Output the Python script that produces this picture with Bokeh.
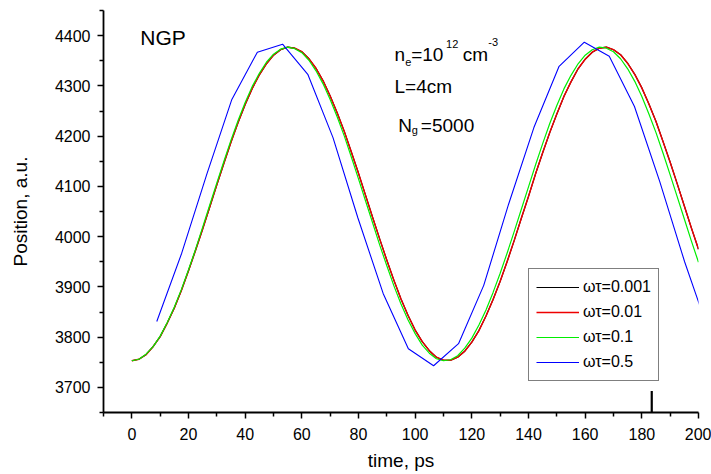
from bokeh.plotting import figure
from bokeh.models import FixedTicker, Range1d, Legend, LegendItem
from bokeh.core.properties import value
from bokeh.embed import file_html
from bokeh.resources import INLINE

# time axis of the smooth runs, ps
t_smooth = [0, 2.5, 5, 7.5, 10, 12.5, 15, 17.5, 20, 22.5, 25, 27.5, 30, 32.5,
            35, 37.5, 40, 42.5, 45, 47.5, 50, 52.5, 55, 57.5, 60, 62.5, 65,
            67.5, 70, 72.5, 75, 77.5, 80, 82.5, 85, 87.5, 90, 92.5, 95, 97.5,
            100, 102.5, 105, 107.5, 110, 112.5, 115, 117.5, 120, 122.5, 125,
            127.5, 130, 132.5, 135, 137.5, 140, 142.5, 145, 147.5, 150, 152.5,
            155, 157.5, 160, 162.5, 165, 167.5, 170, 172.5, 175, 177.5, 180,
            182.5, 185, 187.5, 190, 192.5, 195, 197.5, 200]

# position, a.u.
pos_0001 = [3753, 3756, 3765, 3781, 3801, 3828, 3858, 3893, 3932, 3973, 4015,
            4059, 4103, 4146, 4188, 4227, 4263, 4295, 4322, 4344, 4361, 4372,
            4377, 4375, 4368, 4354, 4335, 4310, 4280, 4246, 4209, 4168, 4126,
            4082, 4038, 3995, 3953, 3913, 3876, 3843, 3814, 3791, 3773, 3760,
            3754, 3754, 3760, 3772, 3790, 3813, 3842, 3875, 3911, 3951, 3993,
            4037, 4080, 4125, 4167, 4207, 4244, 4279, 4308, 4334, 4353, 4367,
            4375, 4377, 4372, 4362, 4345, 4323, 4296, 4264, 4229, 4189, 4148,
            4105, 4061, 4017, 3975]
pos_001 = [3753, 3756, 3765, 3781, 3801, 3828, 3858, 3893, 3932, 3973, 4015,
           4059, 4103, 4146, 4188, 4227, 4263, 4295, 4322, 4344, 4361, 4372,
           4377, 4375, 4368, 4354, 4335, 4310, 4280, 4246, 4209, 4168, 4126,
           4082, 4038, 3995, 3953, 3913, 3876, 3843, 3814, 3791, 3773, 3760,
           3754, 3754, 3760, 3772, 3790, 3813, 3842, 3875, 3911, 3951, 3993,
           4037, 4080, 4125, 4167, 4207, 4244, 4279, 4308, 4334, 4353, 4367,
           4375, 4377, 4372, 4362, 4345, 4323, 4296, 4264, 4229, 4189, 4148,
           4105, 4061, 4017, 3975]
pos_01 = [3753, 3756, 3766, 3781, 3802, 3829, 3860, 3895, 3934, 3975, 4019,
          4063, 4107, 4150, 4192, 4231, 4267, 4299, 4325, 4347, 4363, 4373,
          4377, 4374, 4366, 4351, 4330, 4304, 4273, 4238, 4200, 4158, 4115,
          4071, 4027, 3983, 3942, 3902, 3866, 3834, 3807, 3784, 3768, 3757,
          3753, 3755, 3763, 3778, 3798, 3824, 3854, 3889, 3927, 3968, 4011,
          4055, 4099, 4143, 4185, 4225, 4261, 4294, 4321, 4344, 4361, 4372,
          4377, 4375, 4368, 4354, 4334, 4309, 4279, 4244, 4207, 4166, 4123,
          4079, 4035, 3991, 3949]

# the coarse run (wt=0.5)
t_05 = [8.8, 17.6, 26.5, 35.3, 44.3, 53.2, 62.1, 71.0, 79.8, 88.7, 97.6,
        106.5, 115.3, 124.2, 133.0, 141.9, 150.8, 159.7, 168.5, 177.4, 186.3,
        195.1, 204.0]
pos_05 = [3831, 3967, 4125, 4273, 4367, 4383, 4323, 4197, 4037, 3887, 3777,
          3743, 3787, 3903, 4065, 4217, 4339, 4387, 4359, 4259, 4110, 3950,
          3805]

series_labels = ["ωτ=0.001", "ωτ=0.01", "ωτ=0.1", "ωτ=0.5"]

x_ticks = [0, 20, 40, 60, 80, 100, 120, 140, 160, 180, 200]
y_ticks = [3700, 3800, 3900, 4000, 4100, 4200, 4300, 4400]

# stray marker near the x axis
mark_x = [183.5]
mark_y0 = [3645]
mark_y1 = [3693]

FONT = "Liberation Sans"

p = figure(width=711, height=474, x_range=Range1d(-10, 200),
           y_range=Range1d(3650, 4450), output_backend="svg",
           toolbar_location=None, min_border_left=103, min_border_right=13,
           min_border_top=10, min_border_bottom=62)

p.grid.visible = False
p.outline_line_color = None
p.background_fill_color = "white"
p.border_fill_color = "white"

r1 = p.line(t_smooth, pos_0001, line_color="black", line_width=1.2)
r2 = p.line(t_smooth, pos_001, line_color="#ee0000", line_width=1.4)
r3 = p.line(t_smooth, pos_01, line_color="#00ee00", line_width=1.2)
r4 = p.line(t_05, pos_05, line_color="#0000ff", line_width=1.1)

p.segment(x0=mark_x, y0=mark_y0, x1=mark_x, y1=mark_y1,
          line_color="black", line_width=2.2)

p.xaxis.ticker = FixedTicker(ticks=x_ticks,
                             minor_ticks=[-10, 10, 30, 50, 70, 90, 110, 130,
                                          150, 170, 190])
p.xaxis.axis_label = "time, ps"
p.yaxis.ticker = FixedTicker(ticks=y_ticks,
                             minor_ticks=[3650, 3750, 3850, 3950, 4050, 4150,
                                          4250, 4350, 4450])
p.yaxis.axis_label = "Position, a.u."

for ax in (p.xaxis, p.yaxis):
    ax.axis_line_width = 1.8
    ax.axis_line_color = "black"
    ax.major_tick_line_width = 1.5
    ax.minor_tick_line_width = 1.5
    ax.major_tick_line_color = "black"
    ax.minor_tick_line_color = "black"
    ax.major_tick_in = 0
    ax.minor_tick_in = 0
    ax.major_tick_out = 6
    ax.minor_tick_out = 4
    ax.major_label_text_font = FONT
    ax.major_label_text_font_size = "16px"
    ax.major_label_text_color = "black"
    ax.axis_label_text_font = FONT
    ax.axis_label_text_font_size = "19px"
    ax.axis_label_text_font_style = "normal"
    ax.axis_label_text_color = "black"

p.xaxis.major_label_standoff = 9
p.xaxis.axis_label_standoff = 7
p.yaxis.major_label_standoff = 7
p.yaxis.axis_label_standoff = 21

# annotations
p.text(x=[3], y=[4397], text=["NGP"], text_font=value(FONT),
       text_font_size="21px", text_baseline="alphabetic", text_color="black")

big = [(92.7, 4363, "n"), (98.6, 4363, "=10"), (116.8, 4363, "cm"),
       (92.7, 4298, "L=4cm"), (94.0, 4222, "N"), (102.0, 4222, "=5000")]
small = [(96.5, 4348, "e"), (110.9, 4383, "12"), (125.8, 4388, "-3"),
         (98.8, 4213, "g")]
p.text(x=[b[0] for b in big], y=[b[1] for b in big], text=[b[2] for b in big],
       text_font=value(FONT), text_font_size="19px",
       text_baseline="alphabetic", text_color="black")
p.text(x=[s[0] for s in small], y=[s[1] for s in small],
       text=[s[2] for s in small], text_font=value(FONT),
       text_font_size="11px", text_baseline="alphabetic", text_color="black")

legend = Legend(items=[LegendItem(label=series_labels[0], renderers=[r1]),
                       LegendItem(label=series_labels[1], renderers=[r2]),
                       LegendItem(label=series_labels[2], renderers=[r3]),
                       LegendItem(label=series_labels[3], renderers=[r4])],
                location=(425, 31))
legend.label_text_font = FONT
legend.label_text_font_size = "16px"
legend.label_text_color = "black"
legend.border_line_color = "black"
legend.border_line_width = 1.3
legend.background_fill_alpha = 1
legend.padding = 7
legend.spacing = 3
legend.glyph_height = 22
legend.label_height = 22
legend.glyph_width = 43
legend.label_standoff = 4
legend.margin = 0
p.add_layout(legend, "center")

open("out.html", "w").write(file_html(p, INLINE))
